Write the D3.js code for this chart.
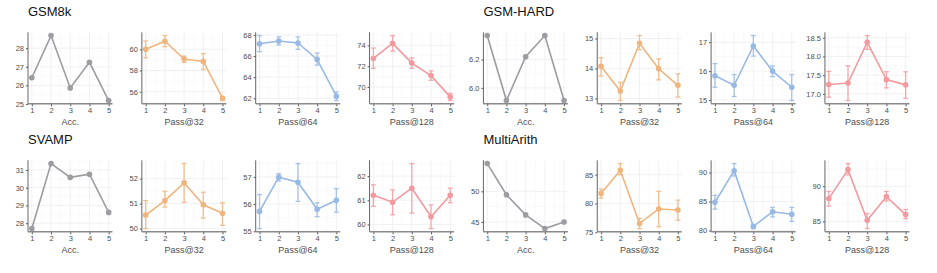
<!DOCTYPE html>
<html>
<head>
<meta charset="utf-8">
<script src="https://cdn.jsdelivr.net/npm/d3@7"></script>
<style>
  body { margin: 0; background: #fff; }
  text { font-family: "Liberation Sans", Arial, sans-serif; }
</style>
</head>
<body>
<div id="vis"></div>
<script>
// Frame and panel grid
const FRAME_WIDTH = 937;
const FRAME_HEIGHT = 273;
const PANEL_LEFT = 28;
const PANEL_STEP = 113.85;
const PANEL_W = 84.5;
const ROW_TOP = [32.3, 160.3];
const PANEL_H = 71.5;

// Shared categories
const STEPS = [1, 2, 3, 4, 5];
const METRICS = ["Acc.", "Pass@32", "Pass@64", "Pass@128"];
const COLORS = ["#9c9ca1", "#f0b57e", "#98b9e4", "#f29a9f"];

// GSM8k
const gsm8k_acc = [26.41, 28.68, 25.86, 27.24, 25.18];
const gsm8k_p32 = [60.0, 60.76, 59.08, 58.86, 55.39];
const gsm8k_p32_lo = [59.2, 60.25, 58.76, 58.1, 55.17];
const gsm8k_p32_hi = [60.79, 61.3, 59.36, 59.6, 55.55];
const gsm8k_p64 = [67.17, 67.43, 67.24, 65.68, 62.19];
const gsm8k_p64_lo = [66.41, 67.05, 66.63, 65.14, 61.78];
const gsm8k_p64_hi = [67.94, 67.81, 67.81, 66.29, 62.6];
const gsm8k_p128 = [72.75, 74.2, 72.3, 71.1, 69.05];
const gsm8k_p128_lo = [71.8, 73.45, 71.8, 70.65, 68.7];
const gsm8k_p128_hi = [73.75, 74.95, 72.8, 71.55, 69.4];
const gsm8k_ticks = [[25, 26, 27, 28], [56, 58, 60], [62, 64, 66, 68], [70, 72, 74]];

// GSM-HARD
const hard_acc = [6.37, 5.91, 6.22, 6.37, 5.91];
const hard_p32 = [14.07, 13.25, 14.84, 13.99, 13.44];
const hard_p32_lo = [13.75, 12.93, 14.63, 13.62, 13.05];
const hard_p32_hi = [14.36, 13.54, 15.1, 14.32, 13.82];
const hard_p64 = [15.84, 15.51, 16.87, 16.0, 15.44];
const hard_p64_lo = [15.44, 15.12, 16.52, 15.81, 14.98];
const hard_p64_hi = [16.26, 15.88, 17.23, 16.18, 15.88];
const hard_p128 = [17.25, 17.29, 18.38, 17.38, 17.24];
const hard_p128_lo = [16.91, 16.82, 18.19, 17.16, 16.88];
const hard_p128_hi = [17.6, 17.75, 18.56, 17.59, 17.59];
const hard_ticks = [[6.0, 6.2], [13, 14, 15], [15, 16, 17], [17.0, 17.5, 18.0, 18.5]];

// SVAMP
const svamp_acc = [27.7, 31.36, 30.58, 30.76, 28.61];
const svamp_p32 = [50.54, 51.12, 51.83, 50.95, 50.61];
const svamp_p32_lo = [50.0, 50.86, 51.05, 50.42, 50.13];
const svamp_p32_hi = [51.12, 51.49, 52.6, 51.45, 51.03];
const svamp_p64 = [55.73, 56.99, 56.8, 55.81, 56.14];
const svamp_p64_lo = [55.1, 56.85, 56.1, 55.54, 55.7];
const svamp_p64_hi = [56.35, 57.12, 57.49, 56.05, 56.57];
const svamp_p128 = [61.21, 60.92, 61.5, 60.32, 61.21];
const svamp_p128_lo = [60.75, 60.4, 60.47, 59.83, 60.9];
const svamp_p128_hi = [61.64, 61.43, 62.52, 60.81, 61.5];
const svamp_ticks = [[28, 29, 30, 31], [50, 51, 52], [55, 56, 57], [60, 61, 62]];

// MultiArith
const multi_acc = [54.54, 49.44, 46.15, 43.92, 45.0];
const multi_p32 = [81.75, 85.77, 76.53, 79.05, 78.86];
const multi_p32_lo = [80.93, 85.0, 75.65, 75.96, 77.11];
const multi_p32_hi = [82.5, 86.93, 77.4, 82.1, 80.58];
const multi_p64 = [84.88, 90.3, 80.7, 83.24, 82.82];
const multi_p64_lo = [83.7, 89.41, 80.35, 82.35, 81.59];
const multi_p64_hi = [86.06, 91.53, 81.06, 84.0, 84.0];
const multi_p128 = [88.25, 92.38, 85.15, 88.54, 85.97];
const multi_p128_lo = [87.18, 91.65, 83.98, 87.91, 85.39];
const multi_p128_hi = [89.27, 93.25, 86.12, 89.27, 86.7];
const multi_ticks = [[45, 50], [75, 80, 85], [80, 85, 90], [85, 90]];

// Panel groups: [title, row, first column, series per metric, ticks, tick format per metric]
const GROUPS = [
	["GSM8k", 0, 0,
		[[gsm8k_acc], [gsm8k_p32, gsm8k_p32_lo, gsm8k_p32_hi],
		 [gsm8k_p64, gsm8k_p64_lo, gsm8k_p64_hi], [gsm8k_p128, gsm8k_p128_lo, gsm8k_p128_hi]],
		gsm8k_ticks, ["d", "d", "d", "d"]],
	["GSM-HARD", 0, 4,
		[[hard_acc], [hard_p32, hard_p32_lo, hard_p32_hi],
		 [hard_p64, hard_p64_lo, hard_p64_hi], [hard_p128, hard_p128_lo, hard_p128_hi]],
		hard_ticks, [".1f", "d", "d", ".1f"]],
	["SVAMP", 1, 0,
		[[svamp_acc], [svamp_p32, svamp_p32_lo, svamp_p32_hi],
		 [svamp_p64, svamp_p64_lo, svamp_p64_hi], [svamp_p128, svamp_p128_lo, svamp_p128_hi]],
		svamp_ticks, ["d", "d", "d", "d"]],
	["MultiArith", 1, 4,
		[[multi_acc], [multi_p32, multi_p32_lo, multi_p32_hi],
		 [multi_p64, multi_p64_lo, multi_p64_hi], [multi_p128, multi_p128_lo, multi_p128_hi]],
		multi_ticks, ["d", "d", "d", "d"]]
];

const FRAME = d3.select("#vis")
	.append("svg")
		.attr("width", FRAME_WIDTH)
		.attr("height", FRAME_HEIGHT);

// Draw one small panel
function drawPanel(x0, y0, m, series, ticks, fmt) {
	const vals = series[0];
	const lo = series[1] || vals;
	const hi = series[2] || vals;
	const color = COLORS[m];

	// ggplot-like 5% expansion
	const yMin = d3.min(lo), yMax = d3.max(hi);
	const pad = (yMax - yMin) * 0.05;
	const Y = d3.scaleLinear().domain([yMin - pad, yMax + pad]).range([PANEL_H, 0]);
	const X = d3.scaleLinear().domain([0.8, 5.2]).range([0, PANEL_W]);

	const g = FRAME.append("g").attr("transform", "translate(" + x0 + "," + y0 + ")");

	// minor grid
	const dy = ticks.length > 1 ? ticks[1] - ticks[0] : 1;
	const minorY = d3.range(ticks[0] - dy / 2, ticks[ticks.length - 1] + dy, dy)
		.filter(v => v >= Y.domain()[0] && v <= Y.domain()[1]);
	g.selectAll(".minory").data(minorY).enter().append("line")
		.attr("x1", 0).attr("x2", PANEL_W)
		.attr("y1", d => Y(d)).attr("y2", d => Y(d))
		.attr("stroke", "#f4f4f4").attr("stroke-width", 0.5);
	g.selectAll(".minorx").data([1.5, 2.5, 3.5, 4.5]).enter().append("line")
		.attr("x1", d => X(d)).attr("x2", d => X(d))
		.attr("y1", 0).attr("y2", PANEL_H)
		.attr("stroke", "#f4f4f4").attr("stroke-width", 0.5);

	// major grid
	g.selectAll(".gridy").data(ticks).enter().append("line")
		.attr("x1", 0).attr("x2", PANEL_W)
		.attr("y1", d => Y(d)).attr("y2", d => Y(d))
		.attr("stroke", "#ebebeb").attr("stroke-width", 0.7);
	g.selectAll(".gridx").data(STEPS).enter().append("line")
		.attr("x1", d => X(d)).attr("x2", d => X(d))
		.attr("y1", 0).attr("y2", PANEL_H)
		.attr("stroke", "#ebebeb").attr("stroke-width", 0.7);

	// error bars
	if (series.length > 1) {
		const eb = g.append("g").attr("stroke", color).attr("stroke-width", 1.3).attr("opacity", 0.85);
		STEPS.forEach((s, i) => {
			eb.append("line").attr("x1", X(s)).attr("x2", X(s)).attr("y1", Y(lo[i])).attr("y2", Y(hi[i]));
			eb.append("line").attr("x1", X(s) - 2.4).attr("x2", X(s) + 2.4).attr("y1", Y(lo[i])).attr("y2", Y(lo[i]));
			eb.append("line").attr("x1", X(s) - 2.4).attr("x2", X(s) + 2.4).attr("y1", Y(hi[i])).attr("y2", Y(hi[i]));
		});
	}

	// line and points
	g.append("path")
		.datum(vals)
		.attr("fill", "none")
		.attr("stroke", color)
		.attr("stroke-width", 1.6)
		.attr("d", d3.line().x((d, i) => X(STEPS[i])).y(d => Y(d)));
	g.selectAll(".pt").data(vals).enter().append("circle")
		.attr("cx", (d, i) => X(STEPS[i]))
		.attr("cy", d => Y(d))
		.attr("r", 2.8)
		.attr("fill", color);

	// y axis
	const ya = g.append("g")
		.call(d3.axisLeft(Y).tickValues(ticks).tickSize(2).tickPadding(2).tickFormat(d3.format(fmt)));
	ya.select(".domain").remove();
	ya.selectAll("line").attr("stroke", "#555");
	ya.selectAll("text").attr("fill", "#4d4d4d").style("font-size", "7.5px");

	// x axis
	const xa = g.append("g")
		.attr("transform", "translate(0," + PANEL_H + ")")
		.call(d3.axisBottom(X).tickValues(STEPS).tickSize(2.5).tickPadding(1.5).tickFormat(d3.format("d")));
	xa.select(".domain").remove();
	xa.selectAll("line").attr("stroke", "#555");
	xa.selectAll("text").attr("fill", "#4d4d4d").style("font-size", "7.5px");

	// axis lines
	g.append("line").attr("x1", 0).attr("x2", 0).attr("y1", 0).attr("y2", PANEL_H)
		.attr("stroke", "#666").attr("stroke-width", 1);
	g.append("line").attr("x1", 0).attr("x2", PANEL_W).attr("y1", PANEL_H).attr("y2", PANEL_H)
		.attr("stroke", "#8a8a8a").attr("stroke-width", 1.5);

	// axis title
	g.append("text")
		.attr("x", PANEL_W / 2)
		.attr("y", PANEL_H + 21)
		.attr("text-anchor", "middle")
		.attr("fill", "#4d4d4d")
		.style("font-size", "9px")
		.text(METRICS[m]);
}

GROUPS.forEach(([title, row, col, series, ticks, fmts]) => {
	const y0 = ROW_TOP[row];
	FRAME.append("text")
		.attr("x", PANEL_LEFT + col * PANEL_STEP)
		.attr("y", y0 - 16.5)
		.attr("fill", "#111")
		.style("font-size", "13px")
		.text(title);
	METRICS.forEach((m, i) => {
		drawPanel(PANEL_LEFT + (col + i) * PANEL_STEP, y0, i, series[i], ticks[i], fmts[i]);
	});
});
</script>
</body>
</html>
